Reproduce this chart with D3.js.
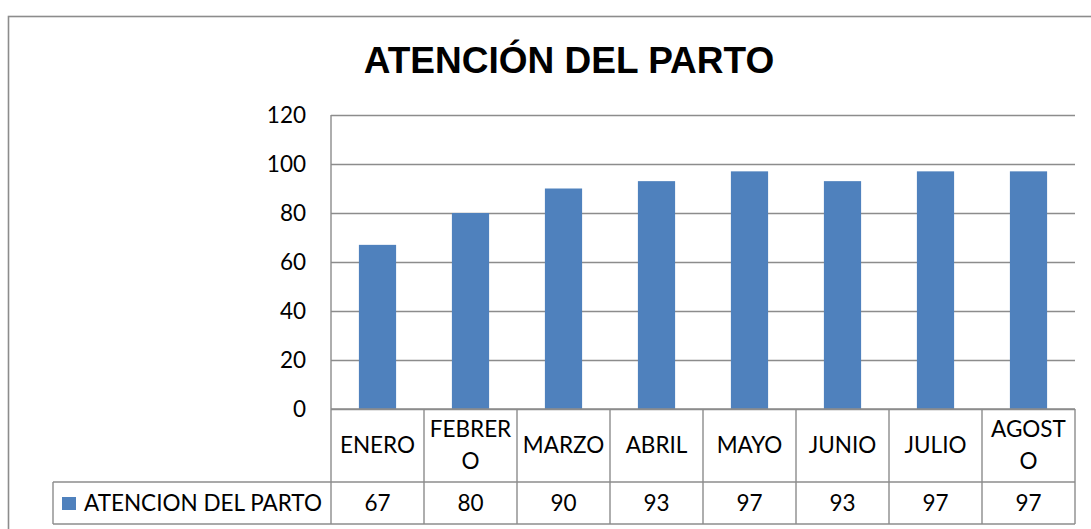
<!DOCTYPE html>
<html>
<head>
<meta charset="utf-8">
<script src="https://cdn.jsdelivr.net/npm/d3@7"></script>
<style>
  body { margin: 0; background: #fff; }
  svg { display: block; }
  .lbl { font-family: Lato, "Open Sans", sans-serif; fill: #000; }
</style>
</head>
<body>
<div id="chart"></div>
<script>
const categories = ["ENERO", "FEBRERO", "MARZO", "ABRIL", "MAYO", "JUNIO", "JULIO", "AGOSTO"];
const values = [67, 80, 90, 93, 97, 93, 97, 97];
const seriesName = "ATENCION DEL PARTO";
const yTicks = [0, 20, 40, 60, 80, 100, 120];
const title = "ATENCIÓN DEL PARTO";

const WIDTH = 1091;
const HEIGHT = 529;
const LEFT = 331, RIGHT = 1075, TOP = 115, BASE = 409;
const ROW1 = 482, ROW2 = 524, LEG_LEFT = 53;
const BAR = "#4f81bd";
const GRID = "#8c8c8c";
const FS = 22.5;

const svg = d3.select("#chart")
    .append("svg")
        .attr("width", WIDTH)
        .attr("height", HEIGHT);

// outer chart frame (runs off the right/bottom edge)
svg.append("rect")
    .attr("x", 8.5).attr("y", 16.5)
    .attr("width", 1200).attr("height", 700)
    .attr("fill", "none")
    .attr("stroke", GRID)
    .attr("stroke-width", 1.6);

svg.append("text")
    .attr("x", 569).attr("y", 73)
    .attr("text-anchor", "middle")
    .style("font-family", "'Liberation Sans', Arial, sans-serif")
    .style("font-weight", "bold")
    .style("font-size", "37px")
    .text(title);

const x = d3.scaleBand()
    .domain(categories)
    .range([LEFT, RIGHT])
    .paddingInner(0.6)
    .paddingOuter(0.3);
const step = x.step();

const y = d3.scaleLinear()
    .domain([0, 120])
    .range([BASE, TOP]);

// gridlines + y labels
const yAxis = svg.append("g")
    .attr("transform", `translate(${LEFT},0)`)
    .call(d3.axisLeft(y).tickValues(yTicks).tickSize(-(RIGHT - LEFT)).tickPadding(25));
yAxis.select(".domain").remove();
yAxis.selectAll(".tick line")
    .attr("stroke", GRID)
    .attr("stroke-width", 1.4);
yAxis.selectAll(".tick text")
    .attr("class", "lbl")
    .style("font-size", FS + "px")
    .attr("fill", "#000")
    .attr("font-family", null);

// bars
svg.selectAll("rect.bar")
    .data(values)
    .enter()
    .append("rect")
        .attr("class", "bar")
        .attr("x", (d, i) => x(categories[i]))
        .attr("y", d => y(d))
        .attr("width", x.bandwidth())
        .attr("height", d => y(0) - y(d))
        .attr("fill", BAR);

// data table lines
const table = svg.append("g")
    .attr("stroke", GRID)
    .attr("stroke-width", 1.4)
    .attr("fill", "none");
table.append("line").attr("x1", LEFT).attr("x2", LEFT).attr("y1", TOP).attr("y2", ROW2);
table.append("line").attr("x1", LEFT).attr("x2", RIGHT).attr("y1", BASE).attr("y2", BASE);
table.append("line").attr("x1", LEG_LEFT).attr("x2", RIGHT).attr("y1", ROW1).attr("y2", ROW1);
table.append("line").attr("x1", LEG_LEFT).attr("x2", RIGHT).attr("y1", ROW2).attr("y2", ROW2);
table.append("line").attr("x1", LEG_LEFT).attr("x2", LEG_LEFT).attr("y1", ROW1).attr("y2", ROW2);
table.selectAll("line.col")
    .data(categories)
    .enter()
    .append("line")
        .attr("class", "col")
        .attr("x1", (d, i) => LEFT + (i + 1) * step)
        .attr("x2", (d, i) => LEFT + (i + 1) * step)
        .attr("y1", BASE).attr("y2", ROW2);

// category labels, wrapped by character when wider than the cell
const catG = svg.selectAll("text.cat")
    .data(categories)
    .enter()
    .append("text")
        .attr("class", "lbl cat")
        .attr("text-anchor", "middle")
        .style("font-size", FS + "px");

catG.each(function(d) {
    const t = d3.select(this);
    const cx = x(d) + x.bandwidth() / 2;
    t.text(d);
    const lines = [];
    if (this.getComputedTextLength() > step - 7) {
        let cut = d.length;
        while (cut > 1) {
            t.text(d.slice(0, cut));
            if (this.getComputedTextLength() <= step - 7) break;
            cut--;
        }
        lines.push(d.slice(0, cut), d.slice(cut));
    } else {
        lines.push(d);
    }
    t.text(null);
    const mid = (BASE + ROW1) / 2;
    const lh = 32;
    lines.forEach((l, k) => {
        t.append("tspan")
            .attr("x", cx)
            .attr("y", mid + (k - (lines.length - 1) / 2) * lh)
            .attr("dy", "0.35em")
            .text(l);
    });
});

// values row
svg.selectAll("text.val")
    .data(values)
    .enter()
    .append("text")
        .attr("class", "lbl val")
        .attr("text-anchor", "middle")
        .attr("x", (d, i) => x(categories[i]) + x.bandwidth() / 2)
        .attr("y", (ROW1 + ROW2) / 2)
        .attr("dy", "0.35em")
        .style("font-size", FS + "px")
        .text(d => d);

// legend key inside the table
svg.append("rect")
    .attr("x", 62).attr("y", 497)
    .attr("width", 14).attr("height", 13)
    .attr("fill", BAR);
svg.append("text")
    .attr("class", "lbl")
    .attr("x", 84)
    .attr("y", (ROW1 + ROW2) / 2)
    .attr("dy", "0.35em")
    .style("font-size", FS + "px")
    .text(seriesName);
</script>
</body>
</html>
